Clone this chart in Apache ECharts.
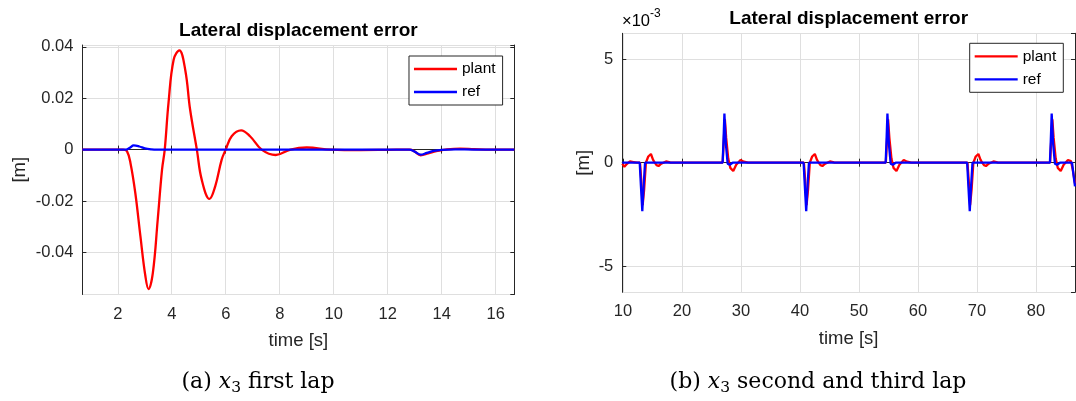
<!DOCTYPE html>
<html>
<head>
<meta charset="utf-8">
<script src="https://cdn.jsdelivr.net/npm/echarts@6/dist/echarts.min.js"></script>
<style>
  html, body { margin: 0; padding: 0; background: #fff; }
  #chart { width: 1076px; height: 401px; }
</style>
</head>
<body>
<div id="chart"></div>
<script>
// first lap, [time s, error m]
var lap1Plant = [[0.69,0],[2.2,0],[2.34,-0.0006],[2.47,-0.0052],[2.65,-0.0169],[2.84,-0.0338],[3.02,-0.049],
  [3.14,-0.0543],[3.3,-0.048],[3.48,-0.0273],[3.64,-0.0078],[3.74,0],[3.88,0.0182],[4.07,0.035],[4.28,0.0386],
  [4.5,0.031],[4.68,0.0156],[4.93,0],[5.11,-0.0117],[5.4,-0.0192],[5.61,-0.0143],[5.85,-0.0039],[6.0,0],
  [6.22,0.0052],[6.57,0.0075],[6.9,0.0052],[7.33,0],[7.85,-0.0021],[8.4,0],[9.0,0.0008],[9.9,0],[11.0,-0.0002],
  [12.0,-0.0001],[12.83,0],[13.0,-0.0008],[13.22,-0.0022],[13.5,-0.0015],[13.8,-0.0006],[14.2,0.0001],
  [14.68,0.0004],[15.2,0.0002],[15.8,0],[16.69,0]];
var lap1Ref = [[0.69,0],[2.3,0],[2.45,0.0007],[2.59,0.0016],[2.8,0.0012],[3.0,0.0005],[3.25,0.0001],[3.45,0],
  [12.8,0],[13.0,-0.0008],[13.22,-0.002],[13.45,-0.0013],[13.7,-0.0005],[14.0,-0.0001],[14.5,0.0001],[15.2,0],[16.69,0]];

// second and third lap, [time s, error x1e-3 m]
var lap23Plant = [[9.9,-0.05],[10.25,-0.2],[10.7,-0.05],[11.2,0.06],[11.8,0.03],[12.4,0],
  [12.9,0],[13.1,-0.8],[13.35,-2.05],[13.6,-1.3],[13.9,0],[14.3,0.3],[14.75,0.42],[15.1,0.15],[15.4,0],[15.7,-0.12],
  [16.04,-0.16],[16.5,-0.05],[17.3,0.06],[18.0,0.01],[18.6,0],
  [26.9,0],[27.08,1.0],[27.28,2.1],[27.5,1.2],[27.85,0.2],[28.2,-0.25],[28.7,-0.4],[29.2,-0.1],[29.93,0.13],[30.5,0.05],[31.2,0],
  [40.67,0],[40.87,-0.8],[41.12,-2.05],[41.37,-1.3],[41.67,0],[42.07,0.3],[42.52,0.42],[42.87,0.15],[43.17,0],[43.47,-0.12],
  [43.81,-0.16],[44.27,-0.05],[45.07,0.06],[45.77,0.01],[46.37,0],
  [54.55,0],[54.73,1.0],[54.93,2.1],[55.15,1.2],[55.5,0.2],[55.85,-0.25],[56.35,-0.4],[56.85,-0.1],[57.58,0.13],[58.15,0.05],[58.85,0],
  [68.38,0],[68.58,-0.8],[68.83,-2.05],[69.08,-1.3],[69.38,0],[69.78,0.3],[70.23,0.42],[70.58,0.15],[70.88,0],[71.18,-0.12],
  [71.52,-0.16],[71.98,-0.05],[72.78,0.06],[73.48,0.01],[74.08,0],
  [82.38,0],[82.56,1.0],[82.76,2.1],[82.98,1.2],[83.33,0.2],[83.68,-0.25],[84.18,-0.4],[84.68,-0.1],[85.41,0.13],
  [85.9,0.08],[86.2,-0.3],[86.6,-1.0]];
var lap23Ref = [[9.9,0],[12.85,0],[13.05,-1.1],[13.29,-2.35],[13.5,-1.2],[13.75,0],[14.0,0.08],[14.6,0],
  [26.9,0],[27.05,1.1],[27.2,2.38],[27.45,0.9],[27.75,-0.05],[28.1,-0.1],[28.6,0],
  [40.62,0],[40.82,-1.1],[41.06,-2.35],[41.27,-1.2],[41.52,0],[41.8,0.08],[42.4,0],
  [54.52,0],[54.67,1.1],[54.82,2.38],[55.07,0.9],[55.37,-0.05],[55.72,-0.1],[56.22,0],
  [68.33,0],[68.53,-1.1],[68.77,-2.35],[68.98,-1.2],[69.23,0],[69.5,0.08],[70.1,0],
  [82.35,0],[82.5,1.1],[82.65,2.38],[82.9,0.9],[83.2,-0.05],[83.55,-0.1],[84.05,0],
  [86.1,0],[86.35,-0.6],[86.6,-1.15]];

// axis ranges
var xRange1 = [0.69, 16.69], yRange1 = [-0.0564, 0.0407];
var xRange2 = [9.9, 86.6], yRange2 = [-6.27, 6.26];

var FONT = 'Liberation Sans';
var AX = '#262626';
var GRID = '#dfdfdf';

function axis(pos, gridIndex, range, split, main) {
  return {
    type: 'value', gridIndex: gridIndex, position: pos,
    min: range[0], max: range[1], splitNumber: split,
    axisLine: { show: true, lineStyle: { color: AX, width: 1 } },
    axisTick: { show: true, inside: true, length: 4, lineStyle: { color: AX } },
    axisLabel: { show: main, color: AX, fontSize: 16.5, fontFamily: FONT,
      margin: (pos === 'bottom' ? 11 : 9), showMinLabel: false, showMaxLabel: false },
    splitLine: { show: main, lineStyle: { color: GRID, width: 1 } }
  };
}

var xAxes = [axis('bottom', 0, xRange1, 8, true), axis('top', 0, xRange1, 8, false),
             axis('bottom', 1, xRange2, 8, true), axis('top', 1, xRange2, 8, false)];
var yAxes = [axis('left', 0, yRange1, 5, true), axis('right', 0, yRange1, 5, false),
             axis('left', 1, yRange2, 3, true), axis('right', 1, yRange2, 3, false)];
[xAxes[0], xAxes[2]].forEach(function (a) {
  a.name = 'time [s]'; a.nameLocation = 'middle'; a.nameGap = 37;
  a.nameTextStyle = { fontSize: 18.5, color: AX, fontFamily: FONT };
});
yAxes[0].name = '[m]'; yAxes[0].nameGap = 53;
yAxes[2].name = '[m]'; yAxes[2].nameGap = 29;
[yAxes[0], yAxes[2]].forEach(function (a) {
  a.nameLocation = 'middle'; a.nameRotate = 90;
  a.nameTextStyle = { fontSize: 18.5, color: AX, fontFamily: FONT };
});

function line(name, color, data, xi, yi, smooth) {
  return {
    name: name, type: 'line', xAxisIndex: xi, yAxisIndex: yi, data: data,
    showSymbol: false, smooth: smooth,
    lineStyle: { color: color, width: 2.3 }, itemStyle: { color: color }, z: name === 'ref' ? 3 : 2
  };
}

function legend(right, top) {
  return {
    orient: 'vertical', right: right, top: top, selectedMode: false,
    itemWidth: 43, itemHeight: 2.3, itemGap: 7, padding: [5, 7, 5, 5],
    borderColor: AX, borderWidth: 1, backgroundColor: '#fff',
    textStyle: { fontSize: 15.5, color: '#000', fontFamily: FONT },
    data: [{ name: 'plant', icon: 'rect' }, { name: 'ref', icon: 'rect' }]
  };
}

function txt(x, y, text, rich, extra) {
  var s = { text: text, align: 'center', verticalAlign: 'middle', fill: '#000' };
  for (var k in extra) s[k] = extra[k];
  if (rich) s.rich = rich;
  return { type: 'text', x: x, y: y, z: 10, style: s };
}

var capRich = {
  n: { fontFamily: 'DejaVu Serif', fontSize: 22, color: '#000', lineHeight: 27 },
  i: { fontFamily: 'DejaVu Serif', fontStyle: 'italic', fontSize: 22, color: '#000', lineHeight: 27 },
  s: { fontFamily: 'DejaVu Serif', fontSize: 15.5, color: '#000', verticalAlign: 'bottom', lineHeight: 15 }
};

var chart = echarts.init(document.getElementById('chart'), null, { renderer: 'canvas' });
chart.setOption({
  animation: false,
  backgroundColor: '#fff',
  grid: [
    { left: 82.4, top: 45, width: 431.9, height: 249.5 },
    { left: 622.3, top: 33.3, width: 452.7, height: 259 }
  ],
  xAxis: xAxes,
  yAxis: yAxes,
  legend: [legend(573.4, 56), legend(12.7, 43.3)],
  series: [
    line('plant', '#ff0000', lap1Plant, 0, 0, 0.4),
    line('ref', '#0000ff', lap1Ref, 0, 0, 0.4),
    line('plant', '#ff0000', lap23Plant, 2, 2, false),
    line('ref', '#0000ff', lap23Ref, 2, 2, false)
  ],
  graphic: [
    txt(298.4, 31, 'Lateral displacement error', null,
        { font: 'bold 19px "Liberation Sans"' }),
    txt(848.7, 18.5, 'Lateral displacement error', null,
        { font: 'bold 19px "Liberation Sans"' }),
    txt(622, 19, '{a|\u00d710}{b|-3}', {
      a: { fontFamily: FONT, fontSize: 16.5, color: AX, verticalAlign: 'bottom', lineHeight: 22 },
      b: { fontFamily: FONT, fontSize: 12, color: AX, verticalAlign: 'top', lineHeight: 22 }
    }, { align: 'left' }),
    txt(258, 382, '{n|(a) }{i|x}{s|3}{n| first lap}', capRich, {}),
    txt(818, 382, '{n|(b) }{i|x}{s|3}{n| second and third lap}', capRich, {})
  ]
});
</script>
</body>
</html>
